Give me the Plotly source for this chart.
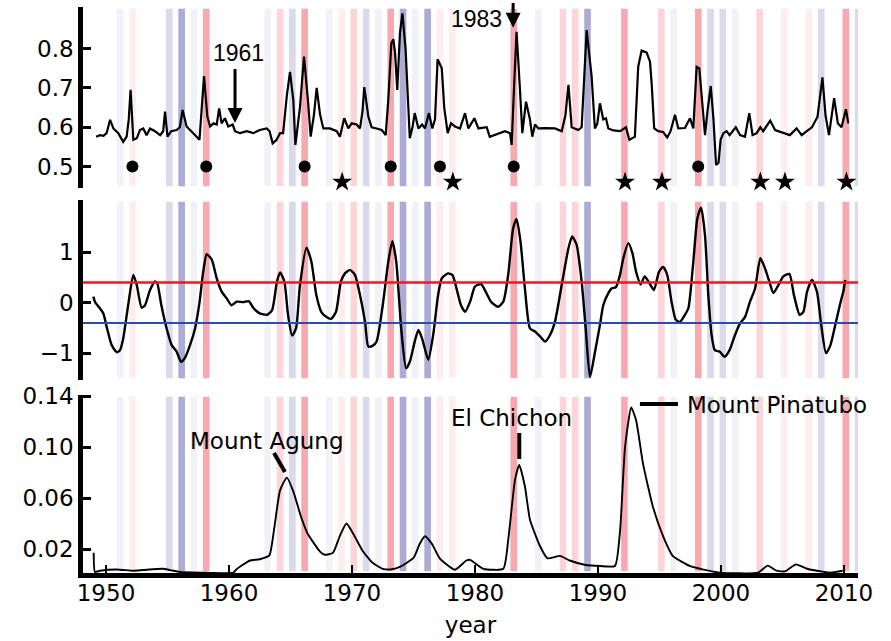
import plotly.graph_objects as go

# ---------------- data ----------------
# Panel 1: index series (year, value)
top_year = [1949.2, 1949.5, 1949.8, 1950.05, 1950.33, 1950.6, 1951.0, 1951.4, 1951.68, 1951.85,
            1952.0, 1952.15, 1952.22, 1952.5, 1952.76, 1953.03, 1953.3, 1953.58, 1953.98, 1954.4,
            1954.65, 1954.8, 1955.0, 1955.3, 1955.74, 1956.0, 1956.23, 1956.55, 1956.96, 1957.37,
            1957.6, 1957.8, 1957.97, 1958.24, 1958.46, 1958.73, 1959.0, 1959.2, 1959.4, 1959.67,
            1959.94, 1960.3, 1960.49, 1960.9, 1961.44, 1961.98, 1962.5, 1963.07, 1963.3, 1963.55,
            1963.87, 1964.15, 1964.4, 1964.7, 1964.96, 1965.23, 1965.4, 1965.77, 1966.1, 1966.44,
            1966.64, 1966.9, 1967.13, 1967.4, 1967.67, 1968.2, 1968.76, 1969.02, 1969.37, 1969.7,
            1969.97, 1970.38, 1970.65, 1970.85, 1971.0, 1971.33, 1971.6, 1972.0, 1972.42, 1972.74,
            1972.95, 1973.2, 1973.36, 1973.5, 1973.68, 1973.9, 1974.1, 1974.36, 1974.58, 1974.7,
            1974.93, 1975.1, 1975.4, 1975.7, 1975.93, 1976.26, 1976.53, 1976.75, 1976.96, 1977.3,
            1977.5, 1977.78, 1978.05, 1978.38, 1978.78, 1979.19, 1979.46, 1979.95, 1980.28, 1980.68,
            1980.95, 1981.2, 1981.6, 1982.03, 1982.44, 1982.85, 1982.98, 1983.2, 1983.38, 1983.65,
            1983.85, 1984.15, 1984.47, 1984.66, 1984.88, 1985.15, 1985.7, 1986.5, 1987.05, 1987.35,
            1987.6, 1987.86, 1988.4, 1988.67, 1988.85, 1989.08, 1989.48, 1989.75, 1989.95, 1990.16,
            1990.43, 1990.65, 1990.84, 1991.25, 1991.8, 1992.28, 1992.55, 1993.0, 1993.27, 1993.55,
            1993.96, 1994.23, 1994.36, 1994.57, 1994.9, 1995.3, 1995.63, 1995.9, 1996.26, 1996.53,
            1997.07, 1997.48, 1997.75, 1998.02, 1998.24, 1998.52, 1998.7, 1998.9, 1999.17, 1999.39,
            1999.6, 1999.8, 1999.97, 2000.2, 2000.46, 2000.7, 2001.2, 2001.55, 2001.95, 2002.3,
            2002.57, 2002.9, 2003.2, 2003.43, 2004.0, 2004.4, 2004.9, 2005.6, 2006.15, 2006.56,
            2006.97, 2007.4, 2007.85, 2008.25, 2008.5, 2008.78, 2009.2, 2009.5, 2009.8, 2010.16,
            2010.35]
top_value = [0.576, 0.58, 0.578, 0.585, 0.619, 0.597, 0.585, 0.563, 0.576, 0.62,
             0.695, 0.62, 0.568, 0.572, 0.593, 0.597, 0.58, 0.597, 0.59, 0.58,
             0.59, 0.64, 0.576, 0.59, 0.593, 0.60, 0.644, 0.602, 0.59, 0.576,
             0.568, 0.65, 0.73, 0.627, 0.602, 0.61, 0.607, 0.648, 0.61, 0.623,
             0.602, 0.607, 0.59, 0.585, 0.59, 0.585, 0.593, 0.597, 0.59, 0.559,
             0.568, 0.585, 0.585, 0.68, 0.741, 0.669, 0.555, 0.651, 0.78, 0.66,
             0.576, 0.63, 0.70, 0.633, 0.597, 0.597, 0.59, 0.576, 0.623, 0.597,
             0.61, 0.607, 0.597, 0.64, 0.702, 0.627, 0.60, 0.597, 0.593, 0.58,
             0.669, 0.814, 0.824, 0.79, 0.695, 0.84, 0.89, 0.797, 0.636, 0.572,
             0.602, 0.636, 0.597, 0.607, 0.597, 0.636, 0.597, 0.62, 0.773, 0.75,
             0.65, 0.585, 0.61, 0.602, 0.597, 0.636, 0.597, 0.623, 0.597, 0.598,
             0.60, 0.576, 0.58, 0.585, 0.59, 0.585, 0.555, 0.72, 0.843, 0.70,
             0.585, 0.665, 0.62, 0.576, 0.607, 0.597, 0.598, 0.597, 0.59, 0.63,
             0.708, 0.60, 0.593, 0.60, 0.72, 0.847, 0.73, 0.597, 0.61, 0.661,
             0.62, 0.623, 0.597, 0.592, 0.59, 0.60, 0.568, 0.576, 0.754, 0.795,
             0.79, 0.767, 0.713, 0.597, 0.59, 0.588, 0.574, 0.59, 0.632, 0.597,
             0.598, 0.623, 0.597, 0.754, 0.75, 0.65, 0.58, 0.64, 0.705, 0.62,
             0.504, 0.51, 0.568, 0.585, 0.59, 0.58, 0.60, 0.58, 0.576, 0.636,
             0.58, 0.585, 0.60, 0.59, 0.617, 0.593, 0.588, 0.58, 0.597, 0.58,
             0.59, 0.60, 0.627, 0.727, 0.63, 0.58, 0.674, 0.61, 0.60, 0.646,
             0.61]

# Markers under the first panel
dot_years = [1952, 1958, 1966, 1973, 1977, 1983, 1998]
star_years = [1969, 1978, 1992, 1995, 2003, 2005, 2010]
dot_level = 0.5
star_level = 0.461

# Panel 2: ENSO index
enso_year = [1948.97, 1949.1, 1949.5, 1949.78, 1950.05, 1950.46, 1950.87, 1951.14, 1951.4, 1951.8,
             1952.22, 1952.5, 1952.9, 1953.17, 1953.58, 1953.98, 1954.17, 1954.5, 1954.93, 1955.34,
             1955.74, 1956.1, 1956.4, 1956.83, 1957.24, 1957.6, 1957.9, 1958.19, 1958.6, 1959.0,
             1959.4, 1959.8, 1960.2, 1960.63, 1961.17, 1961.6, 1962.0, 1962.5, 1963.1, 1963.5,
             1963.9, 1964.15, 1964.5, 1964.8, 1965.13, 1965.45, 1965.77, 1966.3, 1966.7, 1967.1,
             1967.5, 1967.9, 1968.3, 1968.7, 1969.1, 1969.43, 1969.84, 1970.24, 1970.65, 1971.06,
             1971.33, 1971.7, 1972.0, 1972.5, 1972.95, 1973.28, 1973.6, 1974.0, 1974.4, 1974.7,
             1975.1, 1975.4, 1975.7, 1976.2, 1976.6, 1977.0, 1977.3, 1977.8, 1978.16, 1978.5,
             1978.86, 1979.2, 1979.6, 1980.0, 1980.5, 1980.95, 1981.3, 1981.87, 1982.3, 1982.7,
             1983.1, 1983.38, 1983.7, 1984.06, 1984.47, 1984.88, 1985.3, 1985.7, 1986.1, 1986.5,
             1987.05, 1987.6, 1987.9, 1988.26, 1988.67, 1989.0, 1989.35, 1989.76, 1990.16, 1990.43,
             1990.84, 1991.1, 1991.46, 1991.79, 1992.06, 1992.47, 1992.8, 1993.1, 1993.47, 1993.8,
             1994.2, 1994.55, 1994.96, 1995.3, 1995.63, 1995.98, 1996.33, 1996.67, 1997.07, 1997.35,
             1997.75, 1998.08, 1998.38, 1998.7, 1998.97, 1999.24, 1999.5, 1999.9, 2000.3, 2000.7,
             2001.14, 2001.55, 2001.96, 2002.36, 2002.77, 2003.2, 2003.58, 2003.93, 2004.26, 2004.67,
             2005.07, 2005.56, 2005.93, 2006.4, 2006.7, 2007.0, 2007.4, 2007.8, 2008.15, 2008.54,
             2008.9, 2009.35, 2009.73, 2009.95, 2010.1]
enso_value = [0.12, 0.02, -0.11, -0.21, -0.475, -0.84, -0.98, -0.94, -0.71, -0.05,
              0.55, 0.35, -0.1, -0.05, 0.25, 0.42, 0.38, -0.05, -0.51, -0.84,
              -0.97, -1.17, -1.1, -0.84, -0.51, 0.0, 0.61, 0.96, 0.85, 0.48,
              0.22, 0.09, -0.05, 0.02, 0.01, 0.03, -0.11, -0.21, -0.24, -0.15,
              0.42, 0.6, 0.42, -0.24, -0.65, -0.51, 0.35, 1.09, 0.81, 0.15,
              -0.18, -0.28, -0.32, -0.18, 0.42, 0.58, 0.65, 0.55, 0.15, -0.38,
              -0.87, -0.85, -0.77, -0.05, 0.81, 1.22, 0.81, -0.51, -1.30, -1.17,
              -0.77, -0.54, -0.71, -1.13, -0.64, 0.15, 0.48, 0.58, 0.55, 0.28,
              -0.05, -0.18, 0.02, 0.32, 0.37, 0.18, 0.02, -0.08, 0.02, 0.55,
              1.47, 1.66, 1.21, 0.28, -0.51, -0.57, -0.67, -0.77, -0.64, -0.38,
              0.35, 1.08, 1.31, 1.15, 0.42, -0.51, -1.47, -0.97, -0.44, -0.05,
              0.19, 0.28, 0.31, 0.55, 0.88, 1.18, 0.98, 0.61, 0.36, 0.52,
              0.38, 0.25, 0.61, 0.71, 0.55, 0.02, -0.34, -0.38, -0.24, -0.11,
              0.81, 1.67, 1.88, 1.34, 0.15, -0.64, -0.94, -0.97, -1.07, -0.94,
              -0.64, -0.41, -0.28, 0.02, 0.28, 0.88, 0.68, 0.42, 0.19, 0.35,
              0.52, 0.57, 0.15, -0.24, -0.18, 0.22, 0.45, 0.22, -0.44, -1.0,
              -0.84, -0.38, 0.02, 0.22, 0.45]
enso_upper = 0.4
enso_lower = -0.4

# Panel 3: stratospheric aerosol optical depth
aod_year = [1949.0, 1949.1, 1949.5, 1950.87, 1952.2, 1953.0, 1954.65, 1955.2, 1956.0, 1957.64,
            1960.35, 1960.6, 1961.7, 1962.5, 1963.28, 1963.66, 1964.15, 1964.7, 1965.2, 1965.9,
            1966.4, 1967.4, 1967.8, 1968.45, 1969.0, 1969.55, 1970.1, 1970.9, 1971.7, 1972.5,
            1973.1, 1973.9, 1975.0, 1975.5, 1975.93, 1976.5, 1977.15, 1978.37, 1979.3, 1979.6,
            1980.68, 1982.3, 1982.7, 1983.25, 1983.6, 1984.06, 1984.47, 1985.3, 1985.9, 1986.9,
            1987.7, 1989.0, 1990.16, 1991.38, 1991.8, 1992.2, 1992.7, 1993.1, 1993.66, 1994.47,
            1995.3, 1996.1, 1997.5, 1998.5, 1999.9, 2003.0, 2003.8, 2004.5, 2005.2, 2006.1,
            2007.0, 2008.86, 2009.9]
aod_value = [0.017, 0.002, 0.003, 0.004, 0.003, 0.0035, 0.0045, 0.0035, 0.002, 0.0015,
             0.0015, 0.004, 0.011, 0.012, 0.015, 0.035, 0.066, 0.076, 0.066, 0.044,
             0.032, 0.018, 0.0155, 0.017, 0.030, 0.040, 0.032, 0.018, 0.009, 0.0045,
             0.004, 0.006, 0.013, 0.024, 0.030, 0.024, 0.0125, 0.0038, 0.011, 0.0115,
             0.0045, 0.0045, 0.027, 0.074, 0.086, 0.069, 0.043, 0.022, 0.0127, 0.0146,
             0.011, 0.0075, 0.0067, 0.0067, 0.035, 0.100, 0.131, 0.121, 0.087, 0.053,
             0.030, 0.0144, 0.0065, 0.004, 0.0015, 0.0015, 0.007, 0.003, 0.0025, 0.008,
             0.0045, 0.0015, 0.003]

# Warm (El Nino) and cold (La Nina) years, with shading strength 1..4
warm_years = [1952, 1958, 1964, 1966, 1969, 1970, 1973, 1977, 1978, 1983, 1987, 1988,
              1992, 1995, 1998, 2003, 2005, 2007, 2010]
warm_strength = [1, 4, 2, 4, 1, 2, 4, 1, 1, 4, 2, 2,
                 4, 2, 4, 2, 1, 1, 4]
cold_years = [1951, 1955, 1956, 1957, 1963, 1965, 1968, 1971, 1972, 1974, 1975, 1976,
              1985, 1989, 1996, 1999, 2000, 2001, 2008, 2011]
cold_strength = [1, 2, 4, 1, 1, 2, 1, 2, 1, 4, 1, 4,
                 1, 4, 1, 2, 2, 1, 2, 2]

x_ticks = [1950, 1960, 1970, 1980, 1990, 2000, 2010]

# ---------------- figure ----------------
AX_FONT = dict(family="DejaVu Sans", size=23, color="black")
NOTE_FONT = dict(family="DejaVu Sans", size=23, color="black")
YEAR_FONT = dict(family="Liberation Sans", size=23, color="black")
warm_alpha = {1: 0.08, 2: 0.19, 3: 0.28, 4: 0.38}
cold_alpha = {1: 0.06, 2: 0.15, 3: 0.24, 4: 0.34}

fig = go.Figure()

fig.add_trace(go.Scatter(x=top_year, y=top_value, mode="lines",
                         line=dict(color="black", width=2.2), xaxis="x", yaxis="y",
                         showlegend=False))
fig.add_trace(go.Scatter(x=[y + 0.15 for y in dot_years], y=[dot_level] * len(dot_years),
                         mode="markers", marker=dict(color="black", size=12, symbol="circle"),
                         xaxis="x", yaxis="y", showlegend=False, cliponaxis=False))
fig.add_trace(go.Scatter(x=[y + 0.2 for y in star_years], y=[star_level] * len(star_years),
                         mode="markers", marker=dict(color="black", size=15, symbol="star"),
                         xaxis="x", yaxis="y", showlegend=False, cliponaxis=False))

fig.add_trace(go.Scatter(x=enso_year, y=enso_value, mode="lines",
                         line=dict(color="black", width=2.4, shape="spline", smoothing=0.6),
                         xaxis="x2", yaxis="y2", showlegend=False))
fig.add_trace(go.Scatter(x=aod_year, y=aod_value, mode="lines",
                         line=dict(color="black", width=1.9, shape="spline", smoothing=0.5),
                         xaxis="x3", yaxis="y3", showlegend=False))

shapes = []
for suffix in ["", "2", "3"]:
    for yr, s in zip(warm_years, warm_strength):
        shapes.append(dict(type="rect", xref="x" + suffix, yref="y" + suffix + " domain",
                           x0=yr - 0.12, x1=yr + 0.42, y0=0.01, y1=0.99, layer="below",
                           line=dict(width=0), fillcolor=f"rgba(235,30,45,{warm_alpha[s]})"))
    for yr, s in zip(cold_years, cold_strength):
        shapes.append(dict(type="rect", xref="x" + suffix, yref="y" + suffix + " domain",
                           x0=yr - 0.12, x1=yr + 0.42, y0=0.01, y1=0.99, layer="below",
                           line=dict(width=0), fillcolor=f"rgba(10,10,130,{cold_alpha[s]})"))

# ENSO thresholds
shapes.append(dict(type="line", xref="x2 domain", yref="y2", x0=0, x1=1,
                   y0=enso_upper, y1=enso_upper, line=dict(color="rgb(235,25,35)", width=2.6)))
shapes.append(dict(type="line", xref="x2 domain", yref="y2", x0=0, x1=1,
                   y0=enso_lower, y1=enso_lower, line=dict(color="rgb(45,75,170)", width=2)))

# Volcano pointer ticks
shapes.append(dict(type="line", xref="x3", yref="y3", x0=1963.66, y0=0.0953, x1=1964.55, y1=0.0804,
                   line=dict(color="black", width=4)))
shapes.append(dict(type="line", xref="x3", yref="y3", x0=1983.6, y0=0.111, x1=1983.6, y1=0.0906,
                   line=dict(color="black", width=4)))
shapes.append(dict(type="line", xref="x3", yref="y3", x0=1993.41, y0=0.1337, x1=1996.5, y1=0.1337,
                   line=dict(color="black", width=4)))

annotations = [
    dict(x=1960.49, y=0.611, ax=1960.49, ay=0.752, xref="x", yref="y", axref="x", ayref="y",
         text="", showarrow=True, arrowhead=2, arrowsize=1, arrowwidth=3, arrowcolor="black"),
    dict(x=1960.8, y=0.79, xref="x", yref="y", text="1961", showarrow=False, font=YEAR_FONT),
    dict(x=1983.1, y=0.853, ax=1983.1, ay=0.92, xref="x", yref="y", axref="x", ayref="y",
         text="", showarrow=True, arrowhead=2, arrowsize=1, arrowwidth=3, arrowcolor="black"),
    dict(x=1982.35, y=0.876, xref="x", yref="y", text="1983", showarrow=False, xanchor="right",
         font=YEAR_FONT),
    dict(x=1963.09, y=0.1047, xref="x3", yref="y3", text="Mount Agung", showarrow=False,
         font=NOTE_FONT),
    dict(x=1982.98, y=0.1227, xref="x3", yref="y3", text="El Chichon", showarrow=False,
         font=NOTE_FONT),
    dict(x=1997.07, y=0.133, xref="x3", yref="y3", text="Mount Pinatubo", showarrow=False,
         xanchor="left", font=NOTE_FONT),
]

x_range = [1948.13, 2011.14]
y_style = dict(showline=True, linecolor="black", linewidth=4.5, ticks="inside", ticklen=8,
               tickwidth=2.5, tickcolor="black", showgrid=False, zeroline=False,
               tickfont=AX_FONT)

fig.update_layout(
    width=891, height=641,
    margin=dict(l=83, r=33, t=5, b=68, autoexpand=False),
    plot_bgcolor="white", paper_bgcolor="white",
    shapes=shapes, annotations=annotations,
    xaxis=dict(domain=[0, 1], range=x_range, anchor="y", showline=False, showticklabels=False,
               ticks="", showgrid=False, zeroline=False),
    xaxis2=dict(domain=[0, 1], range=x_range, anchor="y2", matches="x", showline=False,
                showticklabels=False, ticks="", showgrid=False, zeroline=False),
    xaxis3=dict(domain=[0, 1], range=x_range, anchor="y3", matches="x", showline=True,
                linecolor="black", linewidth=4.5, ticks="inside", ticklen=8, tickwidth=2,
                tickcolor="black", tickvals=x_ticks, ticktext=[str(t) for t in x_ticks],
                tickfont=AX_FONT, showgrid=False, zeroline=False, ticklabelstandoff=-4,
                title=dict(text="year", font=AX_FONT, standoff=13)),
    yaxis=dict(domain=[0.6778, 0.9965], range=[0.4455, 0.906], anchor="x",
               tickvals=[0.5, 0.6, 0.7, 0.8], ticktext=["0.5", "0.6", "0.7", "0.8"], **y_style),
    yaxis2=dict(domain=[0.3398, 0.6567], range=[-1.531, 2.034], anchor="x2",
                tickvals=[-1, 0, 1], ticktext=["\u22121", "0", "1"], **y_style),
    yaxis3=dict(domain=[0, 0.3134], range=[0.0012, 0.1408], anchor="x3",
                tickvals=[0.02, 0.06, 0.10, 0.14], ticktext=["0.02", "0.06", "0.10", "0.14"],
                **y_style),
)

fig.write_html("out.html")
